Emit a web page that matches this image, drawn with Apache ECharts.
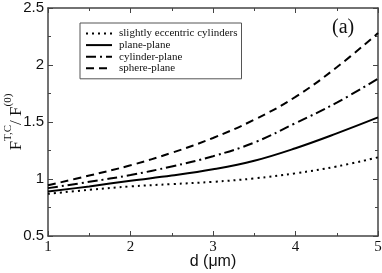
<!DOCTYPE html>
<html><head><meta charset="utf-8">
<script src="https://cdn.jsdelivr.net/npm/echarts@6/dist/echarts.min.js"></script>
<style>html,body{margin:0;padding:0;background:#fff}#c{width:382px;height:273px}</style>
</head><body><div id="c"></div>
<script>
const xs = [1, 1.5, 2, 2.5, 3, 3.5, 4, 4.5, 5];
const eccentric = [0.87, 0.905, 0.935, 0.955, 0.975, 1.005, 1.05, 1.11, 1.19];
const planePlane = [0.89, 0.935, 0.985, 1.03, 1.085, 1.16, 1.27, 1.40, 1.54];
const cylinderPlane = [0.92, 0.975, 1.035, 1.11, 1.20, 1.32, 1.49, 1.67, 1.88];
const spherePlane = [0.945, 1.03, 1.12, 1.23, 1.36, 1.52, 1.72, 1.98, 2.28];
const names = ['slightly eccentric cylinders', 'plane-plane', 'cylinder-plane', 'sphere-plane'];
const dashes = [[2, 4], 'solid', [10, 4, 2, 4], [8, 5]];
const values = [eccentric, planePlane, cylinderPlane, spherePlane];

const chart = echarts.init(document.getElementById('c'));
const frame = '#444';
const serif = 'Liberation Serif';
const sans = 'Liberation Sans';
chart.setOption({
  animation: false,
  grid: { left: 48, right: 4, top: 8, bottom: 37, show: false, containLabel: false, outerBoundsMode: 'none' },
  legend: {
    left: 80, top: 23, orient: 'vertical', itemGap: 0.6, itemWidth: 26, itemHeight: 11.3,
    padding: [5, 4, 5, 5], borderColor: '#555', borderWidth: 1,
    itemStyle: { opacity: 0 },
    textStyle: { fontFamily: serif, fontSize: 11, color: '#111', padding: [0, 0, 0, 2] },
    data: names
  },
  xAxis: [{
    type: 'value', min: 1, max: 5, interval: 1,
    axisLine: { lineStyle: { color: frame, width: 1.5 } },
    axisTick: { inside: true, length: 5, lineStyle: { color: frame } },
    minorTick: { show: true, splitNumber: 2, length: 3, lineStyle: { color: frame } },
    splitLine: { show: false },
    axisLabel: { fontFamily: serif, fontSize: 15, color: '#111', margin: 4 },
    name: 'd (\u03bcm)', nameLocation: 'middle', nameGap: 18, nameMoveOverlap: false,
    nameTextStyle: { fontFamily: sans, fontSize: 16, color: '#111', verticalAlign: 'top' }
  }, {
    type: 'value', min: 1, max: 5, interval: 1, position: 'top',
    axisLine: { show: true, lineStyle: { color: frame, width: 1.5 } },
    axisTick: { inside: true, length: 5, lineStyle: { color: frame } },
    minorTick: { show: true, splitNumber: 2, length: 3, lineStyle: { color: frame } },
    splitLine: { show: false }, axisLabel: { show: false }
  }],
  yAxis: [{
    type: 'value', min: 0.5, max: 2.5, interval: 0.5,
    axisLine: { show: true, lineStyle: { color: frame, width: 1.5 } },
    axisTick: { show: true, inside: true, length: 5, lineStyle: { color: frame } },
    minorTick: { show: true, splitNumber: 2, length: 3, lineStyle: { color: frame } },
    splitLine: { show: false },
    axisLabel: { fontFamily: sans, fontSize: 15, color: '#111', margin: 4 },
    name: '{b|F}{s|T,C}{b|/ F}{s|(0)}', nameLocation: 'middle', nameGap: 23, nameRotate: 90,
    nameMoveOverlap: false,
    nameTextStyle: {
      color: '#111',
      rich: {
        b: { fontFamily: serif, fontSize: 17, lineHeight: 22, verticalAlign: 'bottom', color: '#111' },
        s: { fontFamily: serif, fontSize: 11, lineHeight: 22, verticalAlign: 'top', color: '#111' }
      }
    }
  }, {
    type: 'value', min: 0.5, max: 2.5, interval: 0.5, position: 'right',
    axisLine: { show: true, lineStyle: { color: frame, width: 1.5 } },
    axisTick: { show: true, inside: true, length: 5, lineStyle: { color: frame } },
    minorTick: { show: true, splitNumber: 2, length: 3, lineStyle: { color: frame } },
    splitLine: { show: false }, axisLabel: { show: false }
  }],
  graphic: [{
    type: 'text', left: 332, top: 18,
    style: { text: '(a)', font: '20px "Liberation Serif"', fill: '#111' }
  }],
  series: values.map((v, i) => ({
    name: names[i], type: 'line', smooth: 0.4, symbol: 'none',
    data: xs.map((x, j) => [x, v[j]]),
    lineStyle: { color: '#000', width: 2, type: dashes[i] },
    itemStyle: { color: '#000' }
  }))
});
</script></body></html>
